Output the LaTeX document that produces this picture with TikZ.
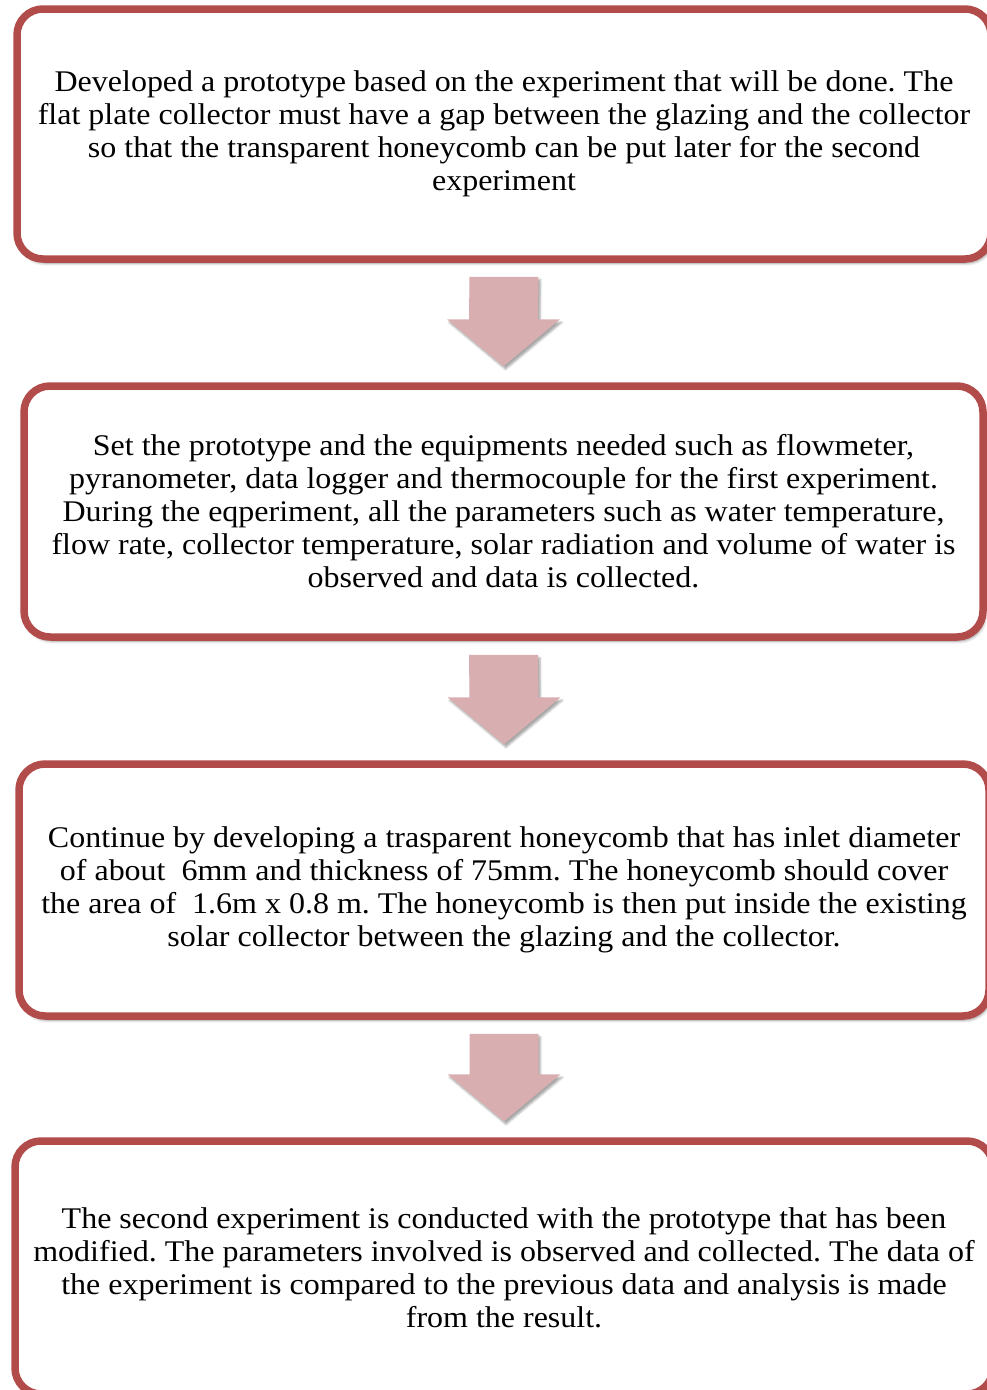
\documentclass[tikz,border=0pt]{standalone}
\usepackage{fontspec}
\setmainfont[FakeStretch=1.066]{Liberation Serif}
\usetikzlibrary{calc,shadows.blur}
\definecolor{boxred}{RGB}{178,76,74}
\definecolor{arrowpink}{RGB}{217,174,176}
\tikzset{
  flowbox/.style={draw=boxred, line width=7.5pt, fill=white, rounded corners=26pt,
    align=center, inner sep=0pt,
    blur shadow={shadow xshift=2pt, shadow yshift=-4pt, shadow blur radius=3pt, shadow opacity=45},
    font=\fontsize{30}{33}\selectfont\frenchspacing},
  blockarrow/.style={fill=arrowpink,
    blur shadow={shadow xshift=2pt, shadow yshift=-3pt, shadow blur radius=2pt, shadow opacity=35}}
}
\begin{document}
\begin{tikzpicture}[x=1pt,y=-1pt]
\useasboundingbox (0,0) rectangle (987,1390);
\node[flowbox, minimum width=974pt, minimum height=250pt] (b1) at (504,134)
 {Developed a prototype based on the experiment that will be done. The\\
  flat plate collector must have a gap between the glazing and the collector\\
  so that the transparent honeycomb can be put later for the second\\
  experiment};
\node[flowbox, minimum width=959pt, minimum height=251pt] (b2) at (503.5,511.5)
 {Set the prototype and the equipments needed such as flowmeter,\\
  pyranometer, data logger and thermocouple for the first experiment.\\
  During the eqperiment, all the parameters such as water temperature,\\
  flow rate, collector temperature, solar radiation and volume of water is\\
  observed and data is collected.};
\node[flowbox, minimum width=970pt, minimum height=252pt] (b3) at (504,890)
 {Continue by developing a trasparent honeycomb that has inlet diameter\\
  of about~~6mm and thickness of 75mm. The honeycomb should cover\\
  the area of~~1.6m x 0.8 m. The honeycomb is then put inside the existing\\
  solar collector between the glazing and the collector.};
\node[flowbox, minimum width=978pt, minimum height=253pt] (b4) at (504,1267.5)
 {The second experiment is conducted with the prototype that has been\\
  modified. The parameters involved is observed and collected. The data of\\
  the experiment is compared to the previous data and analysis is made\\
  from the result.};
\foreach \a/\b in {b1/b2,b2/b3,b3/b4}{
  \fill[blockarrow] ($(\a.south)+(-34.5,14)$) -- ($(\a.south)+(34.5,14)$)
    -- ($(\b.north)+(34.5,-63)$) -- ($(\b.north)+(56.5,-63)$)
    -- ($(\b.north)+(0,-16)$) -- ($(\b.north)+(-56.5,-63)$)
    -- ($(\b.north)+(-34.5,-63)$) -- cycle;
}
\end{tikzpicture}
\end{document}
